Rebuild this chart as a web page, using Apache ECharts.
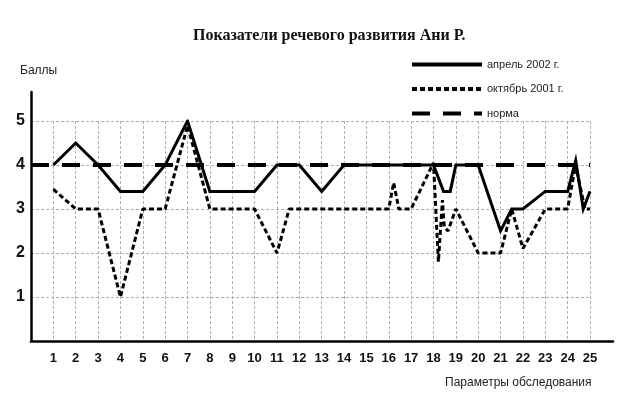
<!DOCTYPE html>
<html>
<head>
<meta charset="utf-8">
<script src="https://cdn.jsdelivr.net/npm/echarts@6/dist/echarts.min.js"></script>
<style>
html,body{margin:0;padding:0;background:#fff;}
#chart{width:624px;height:405px;}
</style>
</head>
<body>
<div id="chart"></div>
<script>
// ---- Data ----
const xTickLabels = ['1','2','3','4','5','6','7','8','9','10','11','12','13','14','15','16','17','18','19','20','21','22','23','24','25'];
const yTickLabels = ['1','2','3','4','5'];

const seriesNames = ['апрель 2002 г.', 'октябрь 2001 г.', 'норма'];

const aprilX = [1,2,3,4,5,6,7,8,9,10,11,12,13,14,15,16,17,18,18.45,18.75,19,20,21,21.5,22,23,24,24.36,24.7,25];
const aprilY = [4.0,4.5,4.0,3.4,3.4,4.0,5.0,3.4,3.4,3.4,4.0,4.0,3.4,4.0,4.0,4.0,4.0,4.0,3.4,3.4,4.0,4.0,2.5,3.0,3.0,3.4,3.4,4.1,3.0,3.4];

const octX = [1,2,3,4,5,6,7,8,9,10,11,11.55,12,13,14,15,16,16.22,16.45,17,18,18.22,18.4,18.48,18.65,19,20,21,21.5,22,23,24,24.35,24.78,25];
const octY = [3.45,3.0,3.0,1.0,3.0,3.0,4.9,3.0,3.0,3.0,2.0,3.0,3.0,3.0,3.0,3.0,3.0,3.6,3.0,3.0,4.05,1.8,3.2,2.6,2.5,3.0,2.0,2.0,3.0,2.1,3.0,3.0,4.0,3.0,3.0];

const normX = [0, 25];
const normY = [4, 4];

const zip = (xs, ys) => xs.map((x, i) => [x, ys[i]]);

const FONT = '"Liberation Sans", Arial, sans-serif';
const chart = echarts.init(document.getElementById('chart'), null, {renderer: 'canvas'});

const grid = {color: '#b0b0b0', width: 1, type: [3, 2]};

chart.setOption({
  backgroundColor: '#ffffff',
  animation: false,
  title: [
    {text: 'Показатели речевого развития Ани Р.', left: 188, top: 23,
     textStyle: {fontFamily: '"Liberation Serif", "Times New Roman", serif', fontWeight: 'bold', fontSize: 16, color: '#111'}},
    {text: 'Баллы', left: 15, top: 60,
     textStyle: {fontFamily: FONT, fontWeight: 'normal', fontSize: 12, color: '#222'}},
    {text: 'Параметры обследования', left: 440, top: 372,
     textStyle: {fontFamily: FONT, fontWeight: 'normal', fontSize: 12, color: '#222'}}
  ],
  legend: {
    orient: 'vertical', left: 405, top: 54,
    itemWidth: 70, itemHeight: 12, itemGap: 13.5,
    itemStyle: {opacity: 0},
    lineStyle: {width: 4},
    textStyle: {fontFamily: FONT, fontSize: 11, color: '#222'},
    data: seriesNames
  },
  grid: [
    {left: 31, right: 34, top: 121, bottom: 64},
    {left: 31, right: 11, top: 92, bottom: 64}
  ],
  xAxis: [
    {type: 'value', gridIndex: 0, min: 0, max: 25, interval: 1,
     axisLine: {show: false}, axisTick: {show: false},
     axisLabel: {margin: 11, fontFamily: FONT, fontWeight: 'bold', fontSize: 13, color: '#111',
       formatter: v => (v >= 1 && v <= 25 ? xTickLabels[v - 1] : '')},
     splitLine: {show: true, lineStyle: grid}},
    {type: 'value', gridIndex: 1, min: 0, max: 1,
     axisLine: {show: true, lineStyle: {color: '#000', width: 2.5}},
     axisTick: {show: false}, axisLabel: {show: false}, splitLine: {show: false}}
  ],
  yAxis: [
    {type: 'value', gridIndex: 0, min: 0, max: 5, interval: 1,
     axisLine: {show: false}, axisTick: {show: false},
     axisLabel: {margin: 6, fontFamily: FONT, fontWeight: 'bold', fontSize: 16, color: '#111',
       formatter: v => (v >= 1 ? yTickLabels[v - 1] : '')},
     splitLine: {show: true, lineStyle: grid}},
    {type: 'value', gridIndex: 1, min: 0, max: 1,
     axisLine: {show: true, lineStyle: {color: '#000', width: 2.5}},
     axisTick: {show: false}, axisLabel: {show: false}, splitLine: {show: false}}
  ],
  series: [
    {name: seriesNames[0], type: 'line', xAxisIndex: 0, yAxisIndex: 0,
     data: zip(aprilX, aprilY), symbol: 'none', z: 4,
     lineStyle: {color: '#000', width: 3, type: 'solid', join: 'miter'},
     itemStyle: {color: '#000'}},
    {name: seriesNames[1], type: 'line', xAxisIndex: 0, yAxisIndex: 0,
     data: zip(octX, octY), symbol: 'none', z: 3,
     lineStyle: {color: '#000', width: 3, type: [5, 3]},
     itemStyle: {color: '#000'}},
    {name: seriesNames[2], type: 'line', xAxisIndex: 0, yAxisIndex: 0,
     data: zip(normX, normY), symbol: 'none', z: 2,
     lineStyle: {color: '#000', width: 4, type: [18, 13]},
     itemStyle: {color: '#000'}}
  ]
});
</script>
</body>
</html>
